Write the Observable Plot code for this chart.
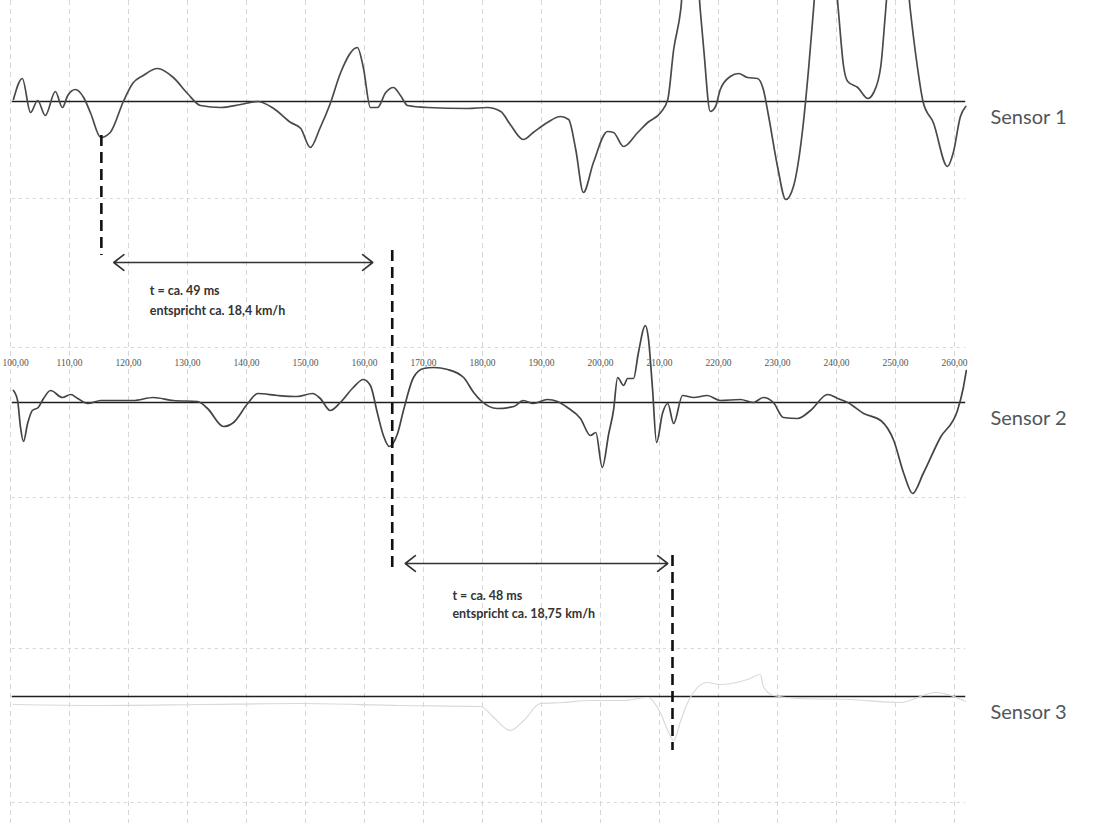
<!DOCTYPE html>
<html><head><meta charset="utf-8">
<script src="https://cdn.jsdelivr.net/npm/d3@7"></script>
<script src="https://cdn.jsdelivr.net/npm/@observablehq/plot@0.6"></script>
<style>body{margin:0;background:#fff;} #chart svg{display:block;}</style>
</head><body><div id="chart"></div>
<script>
// ---- data (time in ms, amplitude in arbitrary units) ----
const sensors = ["Sensor 1", "Sensor 2", "Sensor 3"];
const baselines = [0, -301, -595];           // vertical offset of each trace
const ticks = [100,110,120,130,140,150,160,170,180,190,200,210,220,230,240,250,260];
const tickLabels = ["100,00","110,00","120,00","130,00","140,00","150,00","160,00","170,00","180,00","190,00","200,00","210,00","220,00","230,00","240,00","250,00","260,00"];
const tickLabelLevel = -261;
const hGrid = [-97, -246, -396, -547, -701];

const s1Time = [100.5,102.0,103.4,104.6,105.9,107.6,108.8,109.7,111.0,112.4,113.6,115.3,116.9,119.2,120.7,122.5,124.9,127.6,130.0,132.2,135.6,139.0,141.9,144.6,147.5,149.2,150.8,152.5,154.2,155.9,158.8,159.8,161.0,162.2,163.6,164.9,166.1,167.3,170.7,177.5,180.8,183.1,184.7,186.9,188.6,191.0,193.2,194.6,195.8,197.1,198.8,201.2,202.2,203.9,206.3,208.0,210.2,211.4,212.4,213.6,215.3,216.9,217.5,218.6,219.5,220.3,222.0,223.4,224.9,226.6,227.6,228.5,230.0,231.4,232.7,234.2,235.3,236.1,238.1,240.3,241.2,241.9,243.6,245.3,246.3,247.5,248.3,250.3,252.5,253.7,254.7,256.4,258.8,259.8,261.0,261.9];
const s1Value = [2,23,-11,1,-14,10,-6,6,12,4,-12,-36,-31,1,18,26,33,24,8,-4,-6,-3,0,-7,-21,-27,-46,-26,-2,28,54,34,-6,-6,9,14,6,-4,-6,-7,-6,-10,-23,-38,-31,-21,-15,-18,-48,-91,-61,-30,-31,-45,-31,-21,-11,2,52,92,230,92,52,-10,-5,12,25,28,24,23,12,-15,-65,-98,-85,-31,35,92,240,92,35,20,14,3,9,35,89,230,92,35,-1,-21,-65,-51,-15,-5];

const s2Time = [100.5,101.2,101.7,102.2,102.9,103.7,104.7,105.6,106.8,108.8,110.2,111.4,113.1,115.3,120.8,124.2,127.6,131.7,133.4,136.1,137.8,140.2,141.9,145.3,148.6,151.2,152.5,154.2,155.9,158.1,159.8,161.0,162.2,163.2,164.2,165.6,166.6,168.3,170.0,171.7,174.1,176.8,178.5,179.7,182.5,185.3,186.9,188.6,191.0,192.7,194.4,196.6,198.3,199.2,200.3,201.4,202.2,202.9,203.9,204.6,205.6,206.4,207.6,208.1,208.8,209.5,210.5,211.4,212.4,213.9,215.8,218.1,220.3,223.7,225.9,227.6,229.3,231.0,233.4,235.6,238.5,240.2,241.9,244.6,247.5,249.7,251.4,252.9,254.7,257.6,260.5,261.5,262.0];
const s2Value = [12,2,-25,-39,-21,-8,-5,4,12,5,8,4,-1,2,2,5,2,1,-6,-24,-20,-1,9,7,6,9,4,-8,0,15,23,17,-11,-33,-44,-31,-8,25,34,35,33,25,10,2,-6,-4,2,-1,3,1,-5,-16,-33,-30,-65,-31,-8,25,17,24,24,49,77,65,15,-40,-11,-1,-21,7,5,7,2,3,0,5,0,-15,-16,-8,8,4,0,-11,-18,-38,-71,-91,-71,-35,-8,15,32];

const s3Time = [100.5,115.3,132.2,149.2,166.1,179.7,181.9,184.7,187.0,189.8,193.7,198.3,203.9,208.0,210.2,211.4,212.4,213.6,214.7,218.1,220.3,224.9,227.1,227.6,229.3,233.9,242.4,250.8,256.8,261.9];
const s3Value = [-8,-9,-8,-7,-9,-10,-21,-34,-24,-7,-6,-4,-4,-1,-17,-34,-44,-24,-7,14,12,17,22,10,1,-2,-3,-6,4,-5];

// annotations
const markerTime = [115.4, 164.7, 212.2];
const markerTop = [-34, -149, -454];
const markerBottom = [-154, -471, -649];
const spanStart = [117.5, 166.9];
const spanEnd = [161.4, 211.4];
const spanLevel = [-161, -462];
const noteTime = [123.6, 174.9];
const noteLine1 = ["t = ca. 49 ms", "t = ca. 48 ms"];
const noteLine2 = ["entspricht ca. 18,4 km/h", "entspricht ca. 18,75 km/h"];
const noteLevel1 = [-189, -494];
const noteLevel2 = [-209, -512];

// ---- tables built from the arrays ----
const traces = [[s1Time, s1Value], [s2Time, s2Value], [s3Time, s3Value]].map(([T, V], k) =>
  T.map((t, i) => ({sensor: sensors[k], t, v: V[i] + baselines[k]})));
const sensorRows = sensors.map((name, k) => ({name, base: baselines[k]}));
const tickRows = ticks.map((t, i) => ({t, label: tickLabels[i], anchor: i === 0 ? "start" : "middle"}));
const markers = markerTime.map((t, i) => ({t, top: markerTop[i], bottom: markerBottom[i]}));
const arrows = spanStart.flatMap((s, i) => {
  const mid = (s + spanEnd[i]) / 2;
  return [{x1: mid, x2: s, y: spanLevel[i]}, {x1: mid, x2: spanEnd[i], y: spanLevel[i]}];
});
const notes = noteTime.flatMap((t, i) => [
  {t, y: noteLevel1[i], text: noteLine1[i]},
  {t, y: noteLevel2[i], text: noteLine2[i]}
]);

const chart = Plot.plot({
  width: 1106, height: 823,
  marginLeft: 10, marginRight: 139, marginTop: 0, marginBottom: 0,
  x: {domain: [100, 262.2], axis: null},
  y: {domain: [-722, 101], axis: null},
  style: {background: "#fff", fontFamily: "Lato, sans-serif"},
  marks: [
    Plot.ruleX(ticks, {x: d => d, stroke: "#d6d6d6", strokeWidth: 1, strokeDasharray: "5,4"}),
    Plot.ruleY(hGrid, {y: d => d, x1: 100.3, x2: 261.9, stroke: "#d6d6d6", strokeWidth: 1, strokeDasharray: "3,4"}),
    Plot.ruleY(baselines, {y: d => d, x1: 100.3, x2: 261.9, stroke: "#1e1e1e", strokeWidth: 1.4}),
    Plot.line(traces[2], {x: "t", y: "v", stroke: "#d9d9d9", strokeWidth: 1.2, curve: "monotone-x", clip: true}),
    Plot.line(traces[1], {x: "t", y: "v", stroke: "#444", strokeWidth: 1.7, curve: "monotone-x", clip: true}),
    Plot.line(traces[0], {x: "t", y: "v", stroke: "#4a4a4a", strokeWidth: 1.7, curve: "monotone-x", clip: true}),
    Plot.text(tickRows.slice(0, 1), {x: "t", y: tickLabelLevel, text: "label", textAnchor: "start", dx: -8, fontSize: 9.5, fill: "#555", fontFamily: "Liberation Serif, serif"}),
    Plot.text(tickRows.slice(1), {x: "t", y: tickLabelLevel, text: "label", fontSize: 9.5, fill: "#555", fontFamily: "Liberation Serif, serif"}),
    Plot.ruleX(markers, {x: "t", y1: "top", y2: "bottom", stroke: "#111", strokeWidth: 2.6, strokeDasharray: "11,6"}),
    Plot.arrow(arrows, {x1: "x1", x2: "x2", y1: "y", y2: "y", stroke: "#333", strokeWidth: 1.6, headLength: 12, headAngle: 75}),
    Plot.text(notes, {x: "t", y: "y", text: "text", textAnchor: "start", fontSize: 12.5, fontWeight: "bold", fill: "#333"}),
    Plot.text(sensorRows, {x: 262.2, y: "base", text: "name", textAnchor: "start", dx: 23, dy: 16, fontSize: 20, fill: "#51565b"})
  ]
});
document.getElementById("chart").append(chart);
</script>
</body></html>
